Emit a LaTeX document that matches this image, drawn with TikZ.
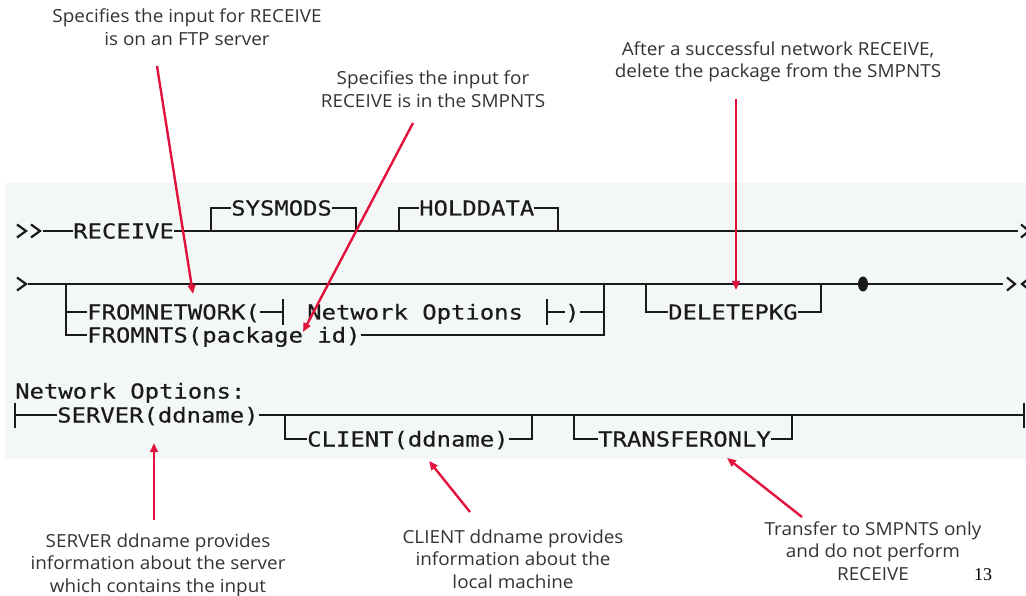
\documentclass[tikz,border=0pt]{standalone}
\usepackage{fontspec}
\setmainfont[FakeStretch=1.05]{Open Sans}
\newfontfamily\synfont[FakeStretch=1.16,FakeBold=0.4]{DejaVu Sans Mono}
\newfontfamily\pagefont{Liberation Serif}
\usetikzlibrary{arrows.meta,shapes.geometric}

\definecolor{ink}{HTML}{1A1A1A}
\definecolor{panel}{HTML}{F3F7F6}
\definecolor{pointred}{RGB}{226,18,62}
\definecolor{notegray}{HTML}{333333}

\tikzset{
  syn/.style={font=\synfont\fontsize{20.6}{24}\selectfont, inner sep=0pt,
    text height=15pt, text depth=0pt, anchor=west, text=ink},
  rail/.style={draw=ink, line width=2pt},
  chev/.style={draw=ink, line width=2.2pt, line join=miter},
  note/.style={font=\fontsize{18}{22.5}\selectfont, text=notegray,
    align=center, inner sep=0pt},
  pointer/.style={draw=pointred, line width=2.4pt,
    -{Triangle[length=9pt,width=7.5pt]}},
}

\begin{document}
\begin{tikzpicture}[x=1pt,y=-1pt]
  % page and the grey panel behind the syntax diagram
  \fill[white] (0,0) rectangle (1026,596);
  \useasboundingbox (0,0) rectangle (1026,596);
  \fill[panel] (5,183) rectangle (1026,459);

  % ---------- first line: RECEIVE with optional SYSMODS / HOLDDATA
  \draw[chev] (17,224.5) -- (26,231) -- (17,237.5);
  \draw[chev] (31,224.5) -- (40,231) -- (31,237.5);
  \coordinate (r1start) at (43,231);
  \node[syn] (receive) at (73,231) {RECEIVE};
  \coordinate (r1end) at (1018,231);
  \draw[rail] (r1start) -- (receive.west);
  \draw[rail] (receive.east) -- (r1end);
  \draw[chev] (1021,224.5) -- (1029,231) -- (1021,237.5);

  \node[syn] (sysmods) at (231,208) {SYSMODS};
  \coordinate (sysL) at (211,231);
  \coordinate (sysR) at (356,231);
  \draw[rail] (sysL) |- (sysmods.west);
  \draw[rail] (sysmods.east) -| (sysR);

  \node[syn] (holddata) at (419,208) {HOLDDATA};
  \coordinate (holdL) at (399,231);
  \coordinate (holdR) at (558,231);
  \draw[rail] (holdL) |- (holddata.west);
  \draw[rail] (holddata.east) -| (holdR);

  % ---------- second line: input source, DELETEPKG, end of statement
  \draw[chev] (17,277.5) -- (26,284) -- (17,290.5);
  \coordinate (r2start) at (28,284);
  \node[ellipse, fill=ink, inner sep=0pt, minimum width=10pt,
        minimum height=15pt] (stop) at (863,284) {};
  \coordinate (r2end) at (1003,284);
  \draw[rail] (r2start) -- (stop);
  \draw[rail] (stop) -- (r2end);
  \draw[chev] (1007,277.5) -- (1015,284) -- (1007,290.5);
  \draw[chev] (1030,277.5) -- (1022,284) -- (1030,290.5);

  \coordinate (fromL) at (66,284);
  \coordinate (fromR) at (604,284);
  \node[syn] (fromnet) at (87,312) {FROMNETWORK(};
  \node[syn] (fromnts) at (87,335) {FROMNTS(package id)};
  \draw[rail] (fromL) |- (fromnts.west);
  \draw[rail] (fromnet.west -| fromL) -- (fromnet.west);

  \coordinate (netbarL) at (283,312);
  \draw[rail] (fromnet.east) -- (netbarL);
  \draw[rail] ([yshift=12.5pt]netbarL) -- ([yshift=-12.5pt]netbarL);
  \node[syn] (netopt) at (307,312) {Network Options};
  \coordinate (netbarR) at (547,312);
  \draw[rail] ([yshift=12.5pt]netbarR) -- ([yshift=-12.5pt]netbarR);
  \node[syn] (rparen) at (565,312) {)};
  \draw[rail] (netbarR) -- (rparen.west);
  \draw[rail] (rparen.east) -| (fromR);
  \draw[rail] (fromnts.east) -| (fromR);

  \node[syn] (delpkg) at (668,312) {DELETEPKG};
  \coordinate (delL) at (646,284);
  \coordinate (delR) at (821,284);
  \draw[rail] (delL) |- (delpkg.west);
  \draw[rail] (delpkg.east) -| (delR);

  % ---------- fragment: Network Options
  \node[syn] (nethead) at (15,391) {Network Options:};
  \coordinate (r3start) at (15,415);
  \draw[rail] ([yshift=12.5pt]r3start) -- ([yshift=-12.5pt]r3start);
  \node[syn] (server) at (57,415) {SERVER(ddname)};
  \coordinate (r3end) at (1024,415);
  \draw[rail] (r3start) -- (server.west);
  \draw[rail] (server.east) -- (r3end);
  \draw[rail] ([yshift=12.5pt]r3end) -- ([yshift=-12.5pt]r3end);

  \node[syn] (client) at (307,439) {CLIENT(ddname)};
  \coordinate (cliL) at (285,415);
  \coordinate (cliR) at (532,415);
  \draw[rail] (cliL) |- (client.west);
  \draw[rail] (client.east) -| (cliR);

  \node[syn] (xferonly) at (598,439) {TRANSFERONLY};
  \coordinate (xfL) at (574,415);
  \coordinate (xfR) at (792,415);
  \draw[rail] (xfL) |- (xferonly.west);
  \draw[rail] (xferonly.east) -| (xfR);

  % ---------- explanatory notes
  \node[note] (noteftp) at (187,27)
    {Specifies the input for RECEIVE\\is on an FTP server};
  \node[note] (notents) at (433,89)
    {Specifies the input for\\RECEIVE is in the SMPNTS};
  \node[note] (notedel) at (778,62)
    {After a successful network RECEIVE,\\delete the package from the SMPNTS};
  \node[note] (noteserver) at (158,565)
    {SERVER ddname provides\\information about the server\\which contains the input};
  \node[note] (noteclient) at (513,559)
    {CLIENT ddname provides\\information about the\\local machine};
  \node[note] (notexfer) at (873,551)
    {Transfer to SMPNTS only\\and do not perform\\RECEIVE};
  \node[font=\pagefont\fontsize{18}{20}\selectfont, inner sep=0pt,
        text=black] (pagenum) at (983,575) {13};

  % ---------- pointers from the notes to the keywords
  \coordinate (ftpTail) at (157,66);
  \coordinate (ftpTip) at (193,294);
  \coordinate (ntsTail) at (413,123);
  \coordinate (ntsTip) at (303,332);
  \coordinate (delTail) at (736,99);
  \coordinate (delTip) at (736,290);
  \coordinate (srvTail) at (154,520);
  \coordinate (srvTip) at (154,443);
  \coordinate (cliTail) at (470,512);
  \coordinate (cliTip) at (429,461);
  \coordinate (xfTail) at (802,517);
  \coordinate (xfTip) at (727,458);
  \draw[pointer] (ftpTail) -- (ftpTip);
  \draw[pointer] (ntsTail) -- (ntsTip);
  \draw[pointer] (delTail) -- (delTip);
  \draw[pointer] (srvTail) -- (srvTip);
  \draw[pointer] (cliTail) -- (cliTip);
  \draw[pointer] (xfTail) -- (xfTip);
\end{tikzpicture}
\end{document}
